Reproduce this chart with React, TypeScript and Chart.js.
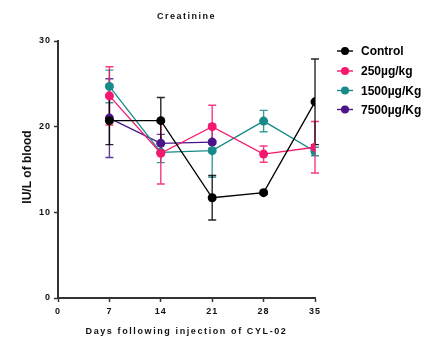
import React, { useEffect, useRef } from "react";
import { Chart, registerables } from "chart.js";

Chart.register(...registerables);

const days = [7, 14, 21, 28, 35];
const xTicks = [0, 7, 14, 21, 28, 35];
const yTicks = [0, 10, 20, 30];

const seriesNames = ["Control", "250µg/kg", "1500µg/Kg", "7500µg/Kg"];
const seriesColors = ["#000000", "#F5186E", "#178A8A", "#4B1488"];

const controlMean = [20.7, 20.7, 11.7, 12.3, 22.9];
const controlErr = [2.8, 2.7, 2.6, 0.2, 5.0];
const mean250 = [23.6, 16.9, 20.0, 16.8, 17.6];
const err250 = [3.4, 3.6, 2.5, 0.95, 3.0];
const mean1500 = [24.7, 17.0, 17.2, 20.65, 17.1];
const err1500 = [1.9, 1.2, 3.1, 1.25, 0.5];
const mean7500 = [21.0, 18.05, 18.2, null, null];
const err7500 = [4.6, 1.05, 0.2, null, null];

const means = [controlMean, mean250, mean1500, mean7500];
const errs = [controlErr, err250, err1500, err7500];

const FONT = "'Liberation Sans', Arial, sans-serif";

export default function App() {
  const ref = useRef<HTMLCanvasElement>(null);

  useEffect(() => {
    const canvas = ref.current!;
    const datasets = seriesNames.map((name, i) => ({
      label: name,
      data: days
        .map((d, j) => ({ x: d, y: means[i][j] as number | null }))
        .filter((p) => p.y !== null),
      borderColor: seriesColors[i],
      backgroundColor: seriesColors[i],
      borderWidth: 1.3,
      pointRadius: 4.5,
      pointHoverRadius: 4.5,
      pointBorderWidth: 0,
      tension: 0,
    }));

    const errorBars = {
      id: "errorBars",
      beforeDatasetsDraw(chart: any) {
        const ctx = chart.ctx;
        const xs = chart.scales.x;
        const ys = chart.scales.y;
        ctx.save();
        for (let i = seriesNames.length - 1; i >= 0; i--) {
          ctx.strokeStyle = seriesColors[i];
          ctx.globalAlpha = 0.85;
          ctx.lineWidth = 1.4;
          days.forEach((d, j) => {
            const m = means[i][j];
            const e = errs[i][j];
            if (m === null || e === null) return;
            const px = xs.getPixelForValue(d);
            const top = ys.getPixelForValue(m + e);
            const bot = ys.getPixelForValue(m - e);
            ctx.beginPath();
            ctx.moveTo(px, top);
            ctx.lineTo(px, bot);
            ctx.moveTo(px - 4, top);
            ctx.lineTo(px + 4, top);
            ctx.moveTo(px - 4, bot);
            ctx.lineTo(px + 4, bot);
            ctx.stroke();
          });
        }
        ctx.restore();
      },
    };

    const spacing = {
      id: "spacing",
      beforeDraw(chart: any) {
        (chart.ctx as any).letterSpacing = "1px";
      },
      afterDraw(chart: any) {
        const ctx = chart.ctx;
        const area = chart.chartArea;
        ctx.save();
        ctx.fillStyle = "#111";
        ctx.textAlign = "center";
        ctx.textBaseline = "middle";
        // Title
        (ctx as any).letterSpacing = "1.5px";
        ctx.font = `bold 9px ${FONT}`;
        ctx.fillText("Creatinine", (area.left + area.right) / 2, 17);
        // X title
        (ctx as any).letterSpacing = "1.6px";
        ctx.font = `bold 9px ${FONT}`;
        ctx.fillText("Days following injection of CYL-02", (area.left + area.right) / 2, 332);
        // Y title
        (ctx as any).letterSpacing = "0px";
        ctx.font = `bold 12px ${FONT}`;
        ctx.save();
        ctx.translate(28, 167);
        ctx.rotate(-Math.PI / 2);
        ctx.fillText("IU/L of blood", 0, 0);
        ctx.restore();
        // Legend
        ctx.textAlign = "left";
        ctx.font = `bold 12px ${FONT}`;
        const ly = [51, 71, 90.5, 109.5];
        seriesNames.forEach((name, i) => {
          const cx = 345;
          const cy = ly[i];
          ctx.strokeStyle = seriesColors[i];
          ctx.fillStyle = seriesColors[i];
          ctx.lineWidth = 1.4;
          ctx.beginPath();
          ctx.moveTo(cx - 8, cy);
          ctx.lineTo(cx + 8, cy);
          ctx.stroke();
          ctx.beginPath();
          ctx.arc(cx, cy, 4, 0, Math.PI * 2);
          ctx.fill();
          ctx.fillStyle = "#000";
          ctx.fillText(name, 361, cy + 1);
        });
        ctx.restore();
      },
    };

    const chart = new Chart(canvas, {
      type: "line",
      data: { datasets },
      options: {
        animation: false,
        responsive: false,
        events: [],
        layout: { padding: { left: 0, top: 41, right: 111, bottom: 0 } },
        plugins: { legend: { display: false }, title: { display: false }, tooltip: { enabled: false } },
        scales: {
          x: {
            type: "linear",
            min: 0,
            max: 35,
            afterBuildTicks(scale: any) {
              scale.ticks = xTicks.map((v) => ({ value: v }));
            },
            afterFit(scale: any) {
              scale.height = 39;
            },
            grid: { drawOnChartArea: false, tickLength: 4, tickColor: "#333", tickWidth: 1.5 },
            border: { color: "#333", width: 2 },
            ticks: { color: "#111", font: { family: FONT, size: 9, weight: "bold" }, padding: 4, maxRotation: 0 },
          },
          y: {
            min: 0,
            max: 30,
            afterBuildTicks(scale: any) {
              scale.ticks = yTicks.map((v) => ({ value: v }));
            },
            afterFit(scale: any) {
              scale.width = 58;
            },
            grid: { drawOnChartArea: false, tickLength: 4, tickColor: "#333", tickWidth: 1.5 },
            border: { color: "#333", width: 2 },
            ticks: { color: "#111", font: { family: FONT, size: 9, weight: "bold" }, padding: 3 },
          },
        },
      } as any,
      plugins: [spacing, errorBars],
    });
    return () => chart.destroy();
  }, []);

  return (
    <div style={{ position: "fixed", left: 0, top: 0, width: 426, height: 337, background: "#fff" }}>
      <canvas ref={ref} width={426} height={337} style={{ width: 426, height: 337 }} />
    </div>
  );
}
